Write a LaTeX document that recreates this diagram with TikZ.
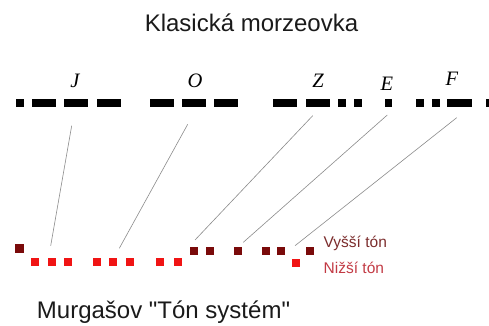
\documentclass[tikz,border=0pt]{standalone}
\usepackage{fontspec}
\setmainfont{Liberation Sans}[Ligatures=TeXOff]
\newfontfamily\serifit{Liberation Serif}[ItalicFont={Liberation Serif Italic}]
\definecolor{darktone}{HTML}{7A0A0A}
\definecolor{lighttone}{HTML}{F01414}
\definecolor{hightext}{HTML}{7B2C2C}
\definecolor{lowtext}{HTML}{C23A44}
\definecolor{linkgray}{HTML}{8A8A8A}
\definecolor{titlegray}{HTML}{1A1A1A}
\begin{document}
\begin{tikzpicture}[x=1pt,y=-1pt,
  bar/.style={fill=black,draw=none},
  hisq/.style={fill=darktone,draw=none},
  losq/.style={fill=lighttone,draw=none},
  link/.style={draw=linkgray,line width=0.6pt},
  letter/.style={anchor=base,inner sep=0pt,font=\fontsize{20.5}{22}\serifit\itshape},
  title/.style={anchor=base,inner sep=0pt,text=titlegray,font=\fontsize{24}{26}\selectfont},
  tonelabel/.style={anchor=base west,inner sep=0pt,font=\fontsize{15.5}{17}\selectfont}]
\useasboundingbox (0,0) rectangle (489,326);
% titles
\node[title] (t1) at (251.5,32) {Klasická morzeovka};
\node[title] (t2) at (163.5,318) {Murgašov "Tón systém"};
% letters
\node[letter] (lJ) at (75,88) {J};
\node[letter] (lO) at (195,88) {O};
\node[letter] (lZ) at (318,88) {Z};
\node[letter] (lE) at (387,90.5) {E};
\node[letter] (lF) at (452,86) {F};
% morse bars
\foreach \a/\b in {16/23.5,32/56,64/88,97/121,150/174,182/206,214/238,273/297,306/330,338/345.5,354/361.5,384.5/392,416/423.5,432/440,447/472,486/495}
  \fill[bar] (\a,99.5) rectangle (\b,106.5);
% connecting coordinates
\coordinate (jt) at (71.7,125.7); \coordinate (jb) at (50.7,245.7);
\coordinate (ot) at (187.7,124.3); \coordinate (ob) at (119.3,248.3);
\coordinate (zt) at (312.7,115.7); \coordinate (zb) at (195,240);
\coordinate (et) at (387.3,115); \coordinate (eb) at (243.3,242.3);
\coordinate (ft) at (456.7,117.7); \coordinate (fb) at (295,245.7);
\draw[link] (jt) -- (jb);
\draw[link] (ot) -- (ob);
\draw[link] (zt) -- (zb);
\draw[link] (et) -- (eb);
\draw[link] (ft) -- (fb);
% tone squares
\fill[hisq] (15,244) rectangle (23.5,252.5);
\foreach \a in {31,47.5,64,92.5,109,125.5,156,173.5}
  \fill[losq] (\a,258) rectangle ++(8.3,8.3);
\foreach \a in {190,205.5,234,261.5,277.3,306}
  \fill[hisq] (\a,247.3) rectangle ++(8,8);
\fill[losq] (291.5,259) rectangle ++(8,8);
% labels
\node[tonelabel,text=hightext] (hi) at (323.5,247) {Vyšší tón};
\node[tonelabel,text=lowtext] (lo) at (323.5,273.5) {Nižší tón};
\end{tikzpicture}
\end{document}
